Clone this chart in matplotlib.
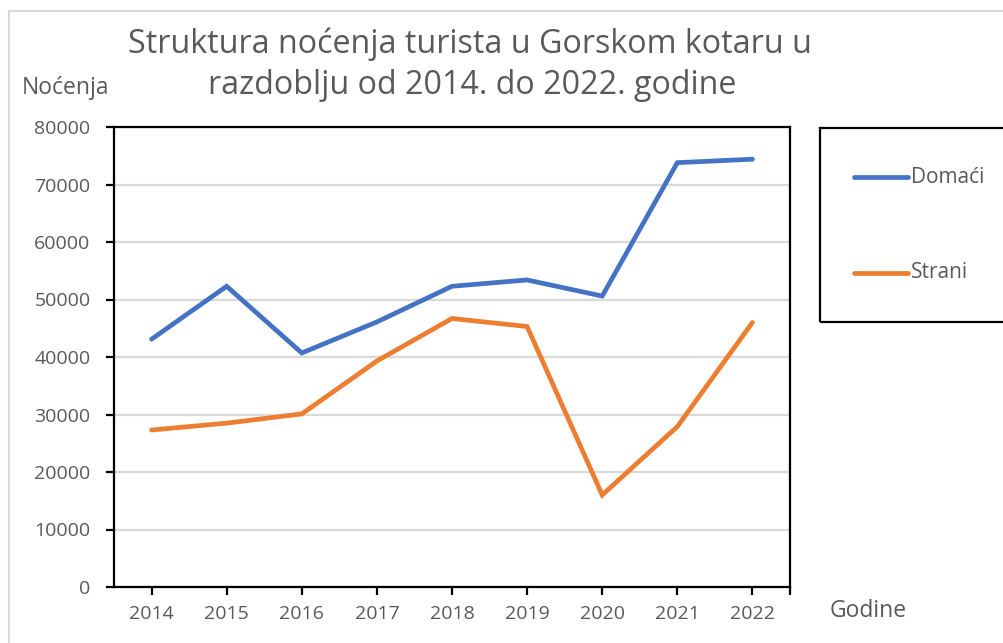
import matplotlib
matplotlib.use("Agg")
import matplotlib.pyplot as plt
from matplotlib.patches import Rectangle
from matplotlib.lines import Line2D

years = ["2014", "2015", "2016", "2017", "2018", "2019", "2020", "2021", "2022"]
domaci = [43100, 52300, 40700, 46100, 52300, 53400, 50600, 73800, 74400]
strani = [27300, 28500, 30100, 39300, 46700, 45300, 16000, 27900, 46000]
yticks = [0, 10000, 20000, 30000, 40000, 50000, 60000, 70000, 80000]

plt.rcParams['font.family'] = ['Open Sans', 'DejaVu Sans']
TXT = '#595959'
BLUE = '#4472C4'
ORANGE = '#ED7D31'

W, H = 1004, 643
fig = plt.figure(figsize=(W / 100, H / 100), dpi=100)

def fx(px):
    return px / W

def fy(py):
    return 1 - py / H

# outer chart border (light gray)
fig.patches.append(Rectangle((fx(9), fy(660)), fx(1100) - fx(9), fy(11) - fy(660),
                             transform=fig.transFigure, fill=False, ec='#d9d9d9', lw=1.5))

ax = fig.add_axes([fx(114), fy(587), fx(790) - fx(114), fy(127) - fy(587)])
x = list(range(len(years)))
ax.plot(x, domaci, color=BLUE, lw=3.4, solid_capstyle='round', solid_joinstyle='miter')
ax.plot(x, strani, color=ORANGE, lw=3.4, solid_capstyle='round', solid_joinstyle='miter')

ax.set_xlim(-0.5, len(years) - 0.5)
ax.set_ylim(0, 80000)
ax.set_yticks(yticks)
ax.set_yticklabels([str(v) for v in yticks])
ax.set_xticks(x)
ax.set_xticklabels(years)
ax.set_xticks([len(years) - 0.5], minor=True)
ax.grid(axis='y', color='#d9d9d9', lw=1.6)
ax.set_axisbelow(True)
for s in ax.spines.values():
    s.set_color('black')
    s.set_linewidth(1.6)
ax.tick_params(axis='both', which='both', direction='out', length=6, width=1.6,
               colors='black', labelcolor=TXT, labelsize=14)
ax.tick_params(axis='y', pad=11)
ax.tick_params(axis='x', pad=7)

fig.text(fx(470), fy(44), "Struktura noćenja turista u Gorskom kotaru u",
         ha='center', va='center', fontsize=23.2, color=TXT)
fig.text(fx(472), fy(85), "razdoblju od 2014. do 2022. godine",
         ha='center', va='center', fontsize=23.2, color=TXT)
fig.text(fx(22), fy(88), "Noćenja", ha='left', va='center', fontsize=16.5, color=TXT)
fig.text(fx(830), fy(611), "Godine", ha='left', va='center', fontsize=16.5, color=TXT)

# legend box
fig.patches.append(Rectangle((fx(820), fy(322)), fx(1100) - fx(820), fy(128) - fy(322),
                             transform=fig.transFigure, fill=False, ec='black', lw=1.6))
for yy, col, lab in [(177, BLUE, "Domaći"), (273, ORANGE, "Strani")]:
    fig.lines.append(Line2D([fx(854), fx(908)], [fy(yy), fy(yy)], transform=fig.transFigure,
                            color=col, lw=3.4, solid_capstyle='round'))
    fig.text(fx(911), fy(yy), lab, ha='left', va='center', fontsize=15, color=TXT)

fig.savefig("out.png", dpi=100)
